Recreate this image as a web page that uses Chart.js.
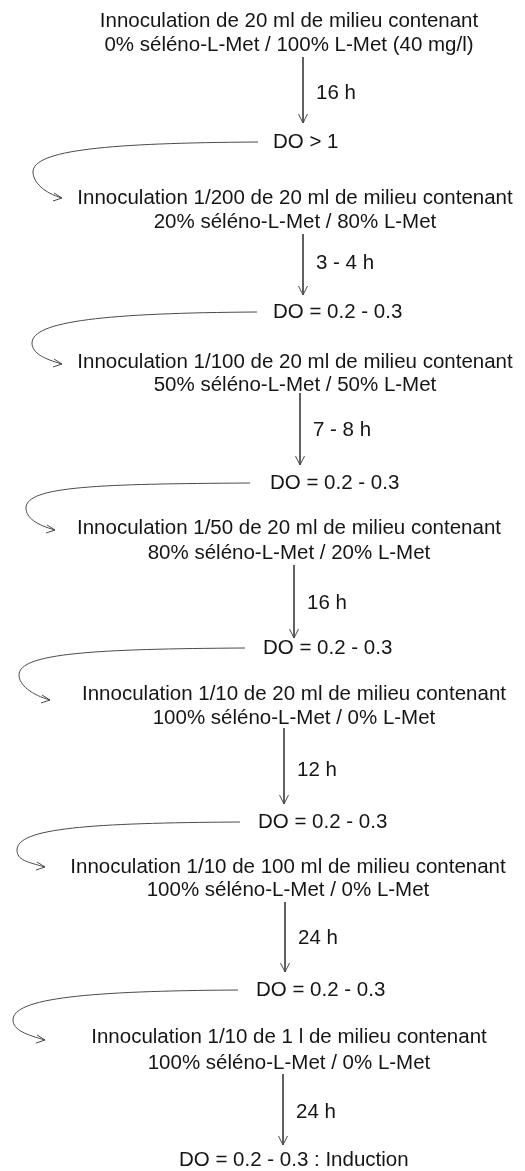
<!DOCTYPE html>
<html>
<head>
<meta charset="utf-8">
<script src="https://cdn.jsdelivr.net/npm/chart.js@4"></script>
<style>
  html, body { margin: 0; padding: 0; background: #fff; }
  #wrap { width: 525px; height: 1171px; position: relative; }
</style>
</head>
<body>
<div id="wrap"><canvas id="myChart"></canvas></div>
<script>
// texts of the protocol
const inocLines = [
  'Innoculation de 20 ml de milieu contenant',
  'Innoculation 1/200 de 20 ml de milieu contenant',
  'Innoculation 1/100 de 20 ml de milieu contenant',
  'Innoculation 1/50 de 20 ml de milieu contenant',
  'Innoculation 1/10 de 20 ml de milieu contenant',
  'Innoculation 1/10 de 100 ml de milieu contenant',
  'Innoculation 1/10 de 1 l de milieu contenant'
];
const mixLines = [
  '0% séléno-L-Met / 100% L-Met (40 mg/l)',
  '20% séléno-L-Met / 80% L-Met',
  '50% séléno-L-Met / 50% L-Met',
  '80% séléno-L-Met / 20% L-Met',
  '100% séléno-L-Met / 0% L-Met',
  '100% séléno-L-Met / 0% L-Met',
  '100% séléno-L-Met / 0% L-Met'
];
const durations = ['16 h', '3 - 4 h', '7 - 8 h', '16 h', '12 h', '24 h', '24 h'];
const densities = [
  'DO > 1',
  'DO = 0.2 - 0.3',
  'DO = 0.2 - 0.3',
  'DO = 0.2 - 0.3',
  'DO = 0.2 - 0.3',
  'DO = 0.2 - 0.3',
  'DO = 0.2 - 0.3 : Induction'
];

// where each step sits on the page (x/y scale units)
const blocks = [
  {cx: 289, y1: 21,   y2: 45,   ax: 303, a0: 57,   a1: 123,  ly: 93,   dx: 273, dy: 142},
  {cx: 295, y1: 198,  y2: 222,  ax: 303, a0: 234,  a1: 295,  ly: 263,  dx: 273, dy: 312},
  {cx: 295, y1: 362,  y2: 385,  ax: 300, a0: 393,  a1: 465,  ly: 430,  dx: 270, dy: 483},
  {cx: 289, y1: 528,  y2: 553,  ax: 294, a0: 565,  a1: 638,  ly: 603,  dx: 263, dy: 648},
  {cx: 294, y1: 694,  y2: 718,  ax: 284, a0: 728,  a1: 804,  ly: 770,  dx: 258, dy: 822},
  {cx: 288, y1: 867,  y2: 890,  ax: 285, a0: 902,  a1: 972,  ly: 938,  dx: 256, dy: 990},
  {cx: 289, y1: 1037, y2: 1063, ax: 283, a0: 1074, a1: 1145, ly: 1112, dx: 179, dy: 1160}
];
// curved return arrows: start x, leftmost x, leftmost y, tip x, tip y
const loops = [
  [258, 33, 172, 62, 198],
  [257, 32, 343, 62, 364],
  [250, 26, 508, 55, 530],
  [245, 19, 675, 50, 700],
  [240, 17, 850, 45, 867],
  [238, 13, 1020, 45, 1040]
];

const lineColor = '#4a4a4a';
const textColor = '#151515';
const font = '20.5px "Liberation Sans", Arial, sans-serif';

let datasets = [];
for (let i = 0; i < blocks.length; i++) {
  let b = blocks[i];
  datasets.push({
    data: [{x: b.ax, y: b.a0}, {x: b.ax, y: b.a1}],
    showLine: true, borderColor: lineColor, borderWidth: 1, pointRadius: 0
  });
  datasets.push({
    data: [{x: b.ax - 4.5, y: b.a1 - 9}, {x: b.ax, y: b.a1}, {x: b.ax + 4.5, y: b.a1 - 9}],
    showLine: true, borderColor: lineColor, borderWidth: 1, pointRadius: 0
  });
}

const textPlugin = {
  id: 'flowText',
  afterDatasetsDraw(chart) {
    const ctx = chart.ctx;
    const xs = chart.scales.x;
    const ys = chart.scales.y;
    ctx.save();
    ctx.font = font;
    ctx.fillStyle = textColor;
    ctx.textBaseline = 'middle';
    for (let i = 0; i < blocks.length; i++) {
      let b = blocks[i];
      ctx.textAlign = 'center';
      ctx.fillText(inocLines[i], xs.getPixelForValue(b.cx), ys.getPixelForValue(b.y1));
      ctx.fillText(mixLines[i], xs.getPixelForValue(b.cx), ys.getPixelForValue(b.y2));
      ctx.textAlign = 'left';
      ctx.fillText(durations[i], xs.getPixelForValue(b.ax + 13), ys.getPixelForValue(b.ly));
      ctx.fillText(densities[i], xs.getPixelForValue(b.dx), ys.getPixelForValue(b.dy));
    }
    // loops
    ctx.strokeStyle = lineColor;
    ctx.lineWidth = 1;
    for (let i = 0; i < loops.length; i++) {
      let [sx, lx, ly, tx, ty] = loops[i];
      let sy = blocks[i].dy;
      let p = (x, y) => [xs.getPixelForValue(x), ys.getPixelForValue(y)];
      let s = p(sx, sy), l = p(lx, ly), t = p(tx, ty);
      ctx.beginPath();
      ctx.moveTo(s[0], s[1]);
      ctx.bezierCurveTo(s[0] - 150, s[1] + 1, l[0], l[1] - 22, l[0], l[1]);
      ctx.bezierCurveTo(l[0], l[1] + 10, t[0] - 18, t[1] - 5, t[0], t[1]);
      ctx.stroke();
      ctx.beginPath();
      ctx.moveTo(t[0] - 8, t[1] - 5);
      ctx.lineTo(t[0], t[1]);
      ctx.lineTo(t[0] - 9, t[1] + 3);
      ctx.stroke();
    }
    ctx.restore();
  }
};

const ctx = document.getElementById('myChart');
new Chart(ctx, {
  type: 'scatter',
  data: { datasets: datasets },
  options: {
    responsive: true,
    maintainAspectRatio: false,
    animation: false,
    layout: { padding: 0 },
    plugins: { legend: { display: false }, tooltip: { enabled: false } },
    scales: {
      x: { type: 'linear', min: 0, max: 525, display: false },
      y: { type: 'linear', min: 0, max: 1171, reverse: true, display: false }
    }
  },
  plugins: [textPlugin]
});
</script>
</body>
</html>
